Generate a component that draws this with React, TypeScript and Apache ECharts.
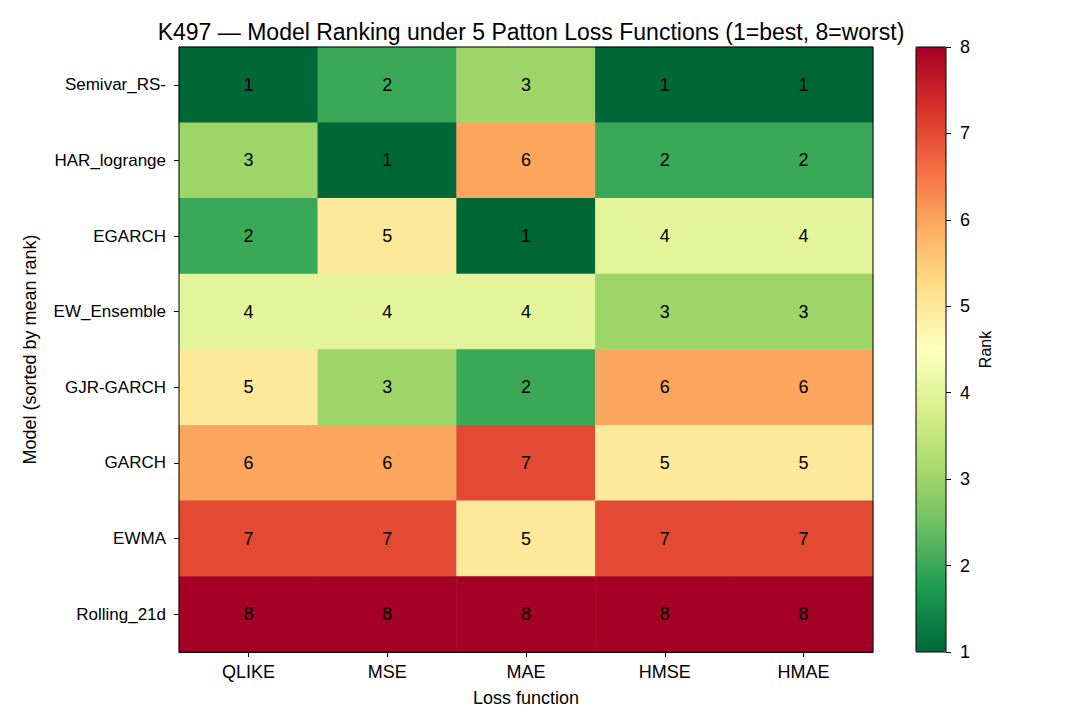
import React, { useEffect, useRef } from "react";
import * as echarts from "echarts";

const models = ["Semivar_RS-", "HAR_logrange", "EGARCH", "EW_Ensemble", "GJR-GARCH", "GARCH", "EWMA", "Rolling_21d"];
const losses = ["QLIKE", "MSE", "MAE", "HMSE", "HMAE"];
const ranks: number[][] = [
  [1, 2, 3, 1, 1],
  [3, 1, 6, 2, 2],
  [2, 5, 1, 4, 4],
  [4, 4, 4, 3, 3],
  [5, 3, 2, 6, 6],
  [6, 6, 7, 5, 5],
  [7, 7, 5, 7, 7],
  [8, 8, 8, 8, 8],
];
const rankTicks = [1, 2, 3, 4, 5, 6, 7, 8];
const cmap = ["#006837", "#1a9850", "#66bd63", "#a6d96a", "#d9ef8b", "#ffffbf", "#fee08b", "#fdae61", "#f46d43", "#d73027", "#a50026"];

const FONT = "'Liberation Sans', Arial, sans-serif";

export default function App() {
  const ref = useRef<HTMLDivElement>(null);
  useEffect(() => {
    if (!ref.current) return;
    const chart = echarts.init(ref.current, null, { renderer: "svg" });
    const data: number[][] = [];
    ranks.forEach((row, i) => row.forEach((v, j) => data.push([j, i, v])));
    const G = { left: 171, top: 39, width: 694, height: 605 };
    const C = { left: 908, top: 39, width: 30, height: 605 };
    chart.setOption({
      animation: false,
      backgroundColor: "#fff",
      textStyle: { fontFamily: FONT },
      title: {
        text: "K497 — Model Ranking under 5 Patton Loss Functions (1=best, 8=worst)",
        left: G.left + G.width / 2,
        textAlign: "center",
        top: 7,
        textStyle: { fontSize: 23, fontWeight: "normal", color: "#000", fontFamily: FONT },
      },
      grid: [
        { ...G },
        { ...C, show: true, borderColor: "#000", borderWidth: 1, backgroundColor: "transparent", z: 10 },
      ],
      xAxis: [
        {
          type: "category",
          gridIndex: 0,
          data: losses,
          name: "Loss function",
          nameLocation: "middle",
          nameGap: 37,
          nameTextStyle: { fontSize: 18, color: "#000" },
          axisLine: { show: true, lineStyle: { color: "#000" } },
          axisTick: { show: true, alignWithLabel: true, length: 5, lineStyle: { color: "#000" } },
          axisLabel: { fontSize: 18, color: "#000", margin: 11 },
          splitLine: { show: false },
        },
        {
          type: "category",
          gridIndex: 1,
          data: [""],
          show: false,
        },
      ],
      yAxis: [
        {
          type: "category",
          gridIndex: 0,
          data: models,
          inverse: true,
          name: "Model (sorted by mean rank)",
          nameLocation: "middle",
          nameGap: 140,
          nameTextStyle: { fontSize: 18, color: "#000" },
          axisLine: { show: true, lineStyle: { color: "#000" } },
          axisTick: { show: true, alignWithLabel: true, length: 5, lineStyle: { color: "#000" } },
          axisLabel: { fontSize: 17, color: "#000", margin: 13 },
          splitLine: { show: false },
        },
        {
          type: "value",
          gridIndex: 1,
          min: 1,
          max: 8,
          interval: 1,
          position: "right",
          name: "Rank",
          nameLocation: "middle",
          nameGap: 31,
          nameRotate: 90,
          nameTextStyle: { fontSize: 16, color: "#000" },
          axisLine: { show: false },
          axisTick: { show: true, length: 5, lineStyle: { color: "#000" } },
          axisLabel: { fontSize: 18, color: "#000", margin: 14, formatter: (v: number) => (rankTicks.includes(v) ? String(v) : "") },
          splitLine: { show: false },
        },
      ],
      visualMap: {
        type: "continuous",
        seriesIndex: 0,
        min: 1,
        max: 8,
        calculable: false,
        showLabel: false,
        text: ["", ""],
        left: C.left,
        top: C.top,
        itemWidth: C.width,
        itemHeight: C.height,
        padding: 0,
        orient: "vertical",
        inRange: { color: cmap },
      },
      series: [
        {
          type: "heatmap",
          xAxisIndex: 0,
          yAxisIndex: 0,
          data,
          label: { show: true, fontSize: 18, color: "#000", fontFamily: FONT, formatter: (p: any) => String(p.value[2]) },
          itemStyle: { borderWidth: 0 },
          emphasis: { disabled: true },
        },
      ],
      graphic: [
        {
          type: "rect",
          z: 100,
          shape: { x: G.left, y: G.top, width: G.width, height: G.height },
          style: { fill: "none", stroke: "#000", lineWidth: 1 },
        },
      ],
    });
    return () => chart.dispose();
  }, []);
  return <div ref={ref} style={{ width: 1050, height: 712 }} />;
}
